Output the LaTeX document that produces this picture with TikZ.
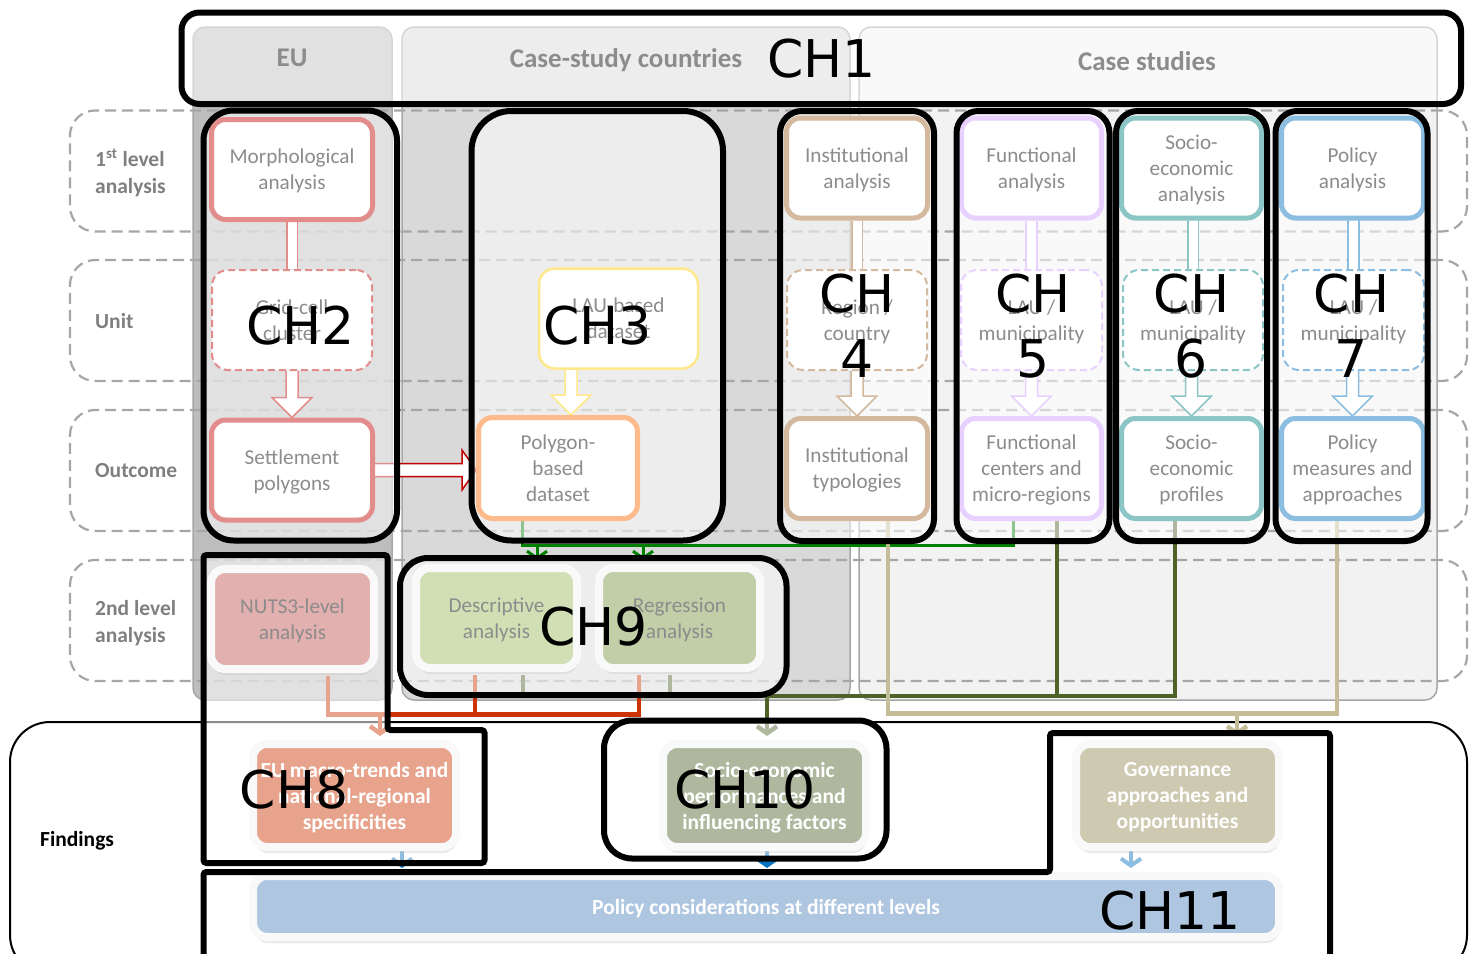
\documentclass[tikz,border=0pt]{standalone}
\usepackage{fontspec}
\setmainfont{Carlito}
\newfontfamily\chfont{DejaVu Sans}
\usetikzlibrary{arrows.meta,calc,shadows}

\definecolor{morphred}{HTML}{C00000}
\definecolor{insttan}{HTML}{A0642C}
\definecolor{funclilac}{HTML}{CC99FF}
\definecolor{socioteal}{HTML}{008080}
\definecolor{policyblue}{HTML}{0070C0}
\definecolor{lauyellow}{HTML}{FFCC00}
\definecolor{polyorange}{HTML}{FF6600}
\definecolor{nutsred}{HTML}{C0504D}
\definecolor{descgreen}{HTML}{9BBB59}
\definecolor{reggreen}{HTML}{77933C}
\definecolor{trendred}{HTML}{CC3300}
\definecolor{perfolive}{HTML}{4F6228}
\definecolor{govtan}{HTML}{948A54}
\definecolor{linetan}{HTML}{C4BD97}
\definecolor{considblue}{HTML}{4F81BD}
\definecolor{flowgreen}{HTML}{008000}
\definecolor{eugray}{HTML}{BDBDBD}
\definecolor{cscgray}{HTML}{D9D9D9}
\definecolor{csgray}{HTML}{F2F2F2}
\definecolor{rowgray}{HTML}{A6A6A6}
\definecolor{labelgray}{HTML}{7F7F7F}
\definecolor{glowgray}{HTML}{F2F2F2}

\pgfdeclarelayer{back}
\pgfdeclarelayer{mid}
\pgfsetlayers{back,mid,main}

\newcommand{\hollowdown}[3]{%
  \draw[draw=#1, fill=white, line width=1.5pt]
    ($(#2)+(-6,0)$) -- ($(#3)+(-6,-20)$) -- ($(#3)+(-20,-20)$) -- (#3)
    -- ($(#3)+(20,-20)$) -- ($(#3)+(6,-20)$) -- ($(#2)+(6,0)$);}
\newcommand{\hollowright}[3]{%
  \draw[draw=#1, fill=white, line width=1.5pt]
    ($(#2)+(0,-6.5)$) -- ($(#3)+(-14,-6.5)$) -- ($(#3)+(-14,-20)$) -- (#3)
    -- ($(#3)+(-14,20)$) -- ($(#3)+(-14,6.5)$) -- ($(#2)+(0,6.5)$);}

\tikzset{
  boxfont/.style={font=\fontsize{21.2}{26}\selectfont},
  colbox/.style={draw=rowgray, line width=1.5pt, rounded corners=12pt, minimum height=673pt, inner sep=0pt},
  colhead/.style={font=\bfseries\fontsize{27}{30}\selectfont},
  rowbox/.style={draw=rowgray, line width=2.2pt, dash pattern=on 11pt off 6pt, rounded corners=25pt,
    minimum width=1397pt, minimum height=121pt, inner sep=0pt},
  rowlabel/.style={anchor=west, align=left, inner sep=0pt, text=labelgray, font=\bfseries\fontsize{21.5}{27}\selectfont},
  anabox/.style={draw=#1, line width=5pt, fill=white, rounded corners=14pt, minimum height=100pt,
    align=center, inner sep=0pt, text depth=0pt, boxfont},
  unitbox/.style={draw=#1, line width=2pt, dash pattern=on 7pt off 4pt, fill=white, rounded corners=16pt,
    minimum height=100pt, align=center, inner sep=0pt, text depth=0pt, boxfont},
  resbox/.style={fill=#1, draw=glowgray, line width=8pt, rounded corners=14pt, minimum height=100pt,
    align=center, inner sep=0pt, text depth=0pt, boxfont,
    drop shadow={shadow xshift=1pt, shadow yshift=-6pt, opacity=0.3, fill=black!60}},
  findbox/.style={resbox=#1, minimum height=103pt, text=white, font=\bfseries\fontsize{21.5}{26}\selectfont},
  dblbar/.style={draw=#1, double=white, double distance=9pt, line width=1.6pt},
  flow/.style={draw=#1, line width=4.5pt},
  vtip/.style={-{Straight Barb[length=7pt,width=20pt]}},
  chbox/.style={draw=black, line width=6pt, fill=white, fill opacity=0.55, text opacity=1, inner sep=0pt,
    align=center, font=\chfont\fontsize{52}{65}\selectfont},
  chshape/.style={draw=black, line width=6pt, fill=white, fill opacity=0.55, rounded corners=3pt},
  chlabel/.style={font=\chfont\fontsize{52}{65}\selectfont, inner sep=0pt},
}

\begin{document}
\begin{tikzpicture}[x=1pt, y=-1pt]
  \useasboundingbox (0,0) rectangle (1474,953);

  \begin{pgfonlayer}{back}
    % columns
    \node[colbox, fill=eugray, minimum width=199pt] (eu) at (292.5,363.5) {};
    \node[colbox, fill=cscgray, minimum width=448pt] (csc) at (626,363.5) {};
    \node[colbox, fill=csgray, minimum width=578pt] (cs) at (1148,363.5) {};
    \node[colhead] (euhead) at (292,58) {EU};
    \node[colhead] (cschead) at (626,60) {Case-study countries};
    \node[colhead] (cshead) at (1147,61) {Case studies};

    % rows
    \node[rowbox] (rowfirst) at (768.5,171) {};
    \node[rowbox] (rowunit) at (768.5,320.5) {};
    \node[rowbox] (rowout) at (768.5,470.5) {};
    \node[rowbox] (rowsecond) at (768.5,620.5) {};
    \node[rowlabel] (lblfirst) at (95,173) {1\textsuperscript{st} level\\analysis};
    \node[rowlabel] (lblunit) at (95,321) {Unit};
    \node[rowlabel] (lblout) at (95,471) {Outcome};
    \node[rowlabel] (lblsecond) at (95,623) {2nd level\\analysis};

    \node[draw, line width=2pt, fill=white, rounded corners=40pt, minimum width=1457pt,
      minimum height=253pt] (findings) at (738.5,848.5) {};
    \node[rowlabel, text=black] (lblfind) at (40,841) {Findings};
  \end{pgfonlayer}

  % first level analysis
  \node[anabox=morphred, minimum width=161pt] (morph) at (292,169.5) {Morphological\\analysis};
  \node[anabox=insttan, minimum width=141pt] (inst) at (857,168) {Institutional\\analysis};
  \node[anabox=funclilac, minimum width=140pt] (func) at (1031.5,168) {Functional\\analysis};
  \node[anabox=socioteal, minimum width=140pt] (socio) at (1191.5,168) {Socio-\\economic\\analysis};
  \node[anabox=policyblue, minimum width=142pt] (policy) at (1352.5,168) {Policy\\analysis};

  % units
  \node[unitbox=morphred, minimum width=160pt] (grid) at (292,320) {Grid-cell\\cluster};
  \node[unitbox=lauyellow, solid, line width=2.5pt, minimum width=159pt] (lau) at (618.5,318.5) {LAU-based\\dataset};
  \node[unitbox=insttan, minimum width=140pt] (region) at (857,320) {Region /\\country};
  \node[unitbox=funclilac, minimum width=141pt] (funclau) at (1031.5,320) {LAU /\\municipality};
  \node[unitbox=socioteal, minimum width=140pt] (sociolau) at (1193,320) {LAU /\\municipality};
  \node[unitbox=policyblue, minimum width=141pt] (policylau) at (1353.5,320) {LAU /\\municipality};

  % outcomes
  \node[anabox=morphred, minimum width=161pt] (settle) at (292,470) {Settlement\\polygons};
  \node[anabox=polyorange, minimum width=159pt, minimum height=101pt] (poly) at (558,468) {Polygon-\\based\\dataset};
  \node[anabox=insttan, minimum width=141pt] (insttyp) at (857,468.5) {Institutional\\typologies};
  \node[anabox=funclilac, minimum width=140pt] (funccent) at (1031.5,468.5) {Functional\\centers and\\micro-regions};
  \node[anabox=socioteal, minimum width=140pt] (socioprof) at (1191.5,468.5) {Socio-\\economic\\profiles};
  \node[anabox=policyblue, minimum width=142pt] (polmeas) at (1352.5,468.5) {Policy\\measures and\\approaches};

  % second level analysis
  \node[resbox=nutsred, minimum width=163pt] (nuts) at (292.5,619) {NUTS3-level\\analysis};
  \node[resbox=descgreen, minimum width=161pt] (desc) at (496.5,618) {Descriptive\\analysis};
  \node[resbox=reggreen, minimum width=161pt] (reg) at (679.5,618) {Regression\\analysis};

  % findings
  \node[findbox=trendred, minimum width=203pt] (trends) at (354.5,795.5) {EU macro-trends and\\national-regional\\specificities};
  \node[findbox=perfolive, minimum width=203pt] (perf) at (764.5,795.5) {Socio-economic\\performances and\\influencing factors};
  \node[findbox=govtan, minimum width=203pt] (gov) at (1177.5,795.5) {Governance\\approaches and\\opportunities};
  \node[findbox=considblue, minimum width=1026pt, minimum height=61pt] (consid) at (766,906.5) {Policy considerations at different levels};

  \begin{pgfonlayer}{mid}
    \draw[dblbar=morphred] (morph.south) -- (grid.north);
    \draw[dblbar=insttan] (inst.south) -- (region.north);
    \draw[dblbar=funclilac] (func.south) -- (funclau.north);
    \draw[dblbar=socioteal] (socio.south) -- (sociolau.north |- socio.south) -- (sociolau.north);
    \draw[dblbar=policyblue] (policy.south) -- (policylau.north |- policy.south) -- (policylau.north);

    \hollowdown{morphred}{grid.south}{settle.north}
    \coordinate (laufoot) at ([xshift=-47.5pt]lau.south);
    \coordinate (polytop) at ([xshift=13pt]poly.north);
    \hollowdown{lauyellow}{laufoot}{polytop}
    \hollowdown{insttan}{region.south}{insttyp.north}
    \hollowdown{funclilac}{funclau.south}{funccent.north}
    \coordinate (sociotop) at (sociolau.south -| socioprof.north);
    \hollowdown{socioteal}{sociotop}{socioprof.north}
    \coordinate (policytop) at (policylau.south -| polmeas.north);
    \hollowdown{policyblue}{policytop}{polmeas.north}
    \coordinate (polyside) at (settle.east -| poly.west);
    \hollowright{morphred}{settle.east}{polyside}

    % polygon-based dataset to 2nd level
    \coordinate (polyfoot) at ([xshift=-36pt]poly.south);
    \coordinate (funcfoot) at ([xshift=-18.5pt]funccent.south);
    \coordinate (greenbus) at ($(polyfoot)+(0,24)$);
    \draw[flow=flowgreen, line width=3pt] (polyfoot) -- (greenbus) -| (funcfoot);
    \coordinate (descin) at ([xshift=40.5pt, yshift=4pt]desc.north);
    \coordinate (regin) at ([xshift=-36.5pt, yshift=4pt]reg.north);
    \draw[flow=flowgreen, line width=3pt, vtip] (descin |- greenbus) -- (descin);
    \draw[flow=flowgreen, line width=3pt, vtip] (regin |- greenbus) -- (regin);

    % to EU macro-trends
    \coordinate (nutsfoot) at ([xshift=35.5pt, yshift=-3pt]nuts.south);
    \coordinate (redbus) at ($(nutsfoot)+(0,38.5)$);
    \coordinate (trendin) at ([xshift=25.5pt, yshift=4pt]trends.north);
    \coordinate (descfoot) at ([xshift=-21.5pt, yshift=-3pt]desc.south);
    \coordinate (regfoot) at ([xshift=-40.5pt, yshift=-3pt]reg.south);
    \draw[flow=trendred, vtip] (nutsfoot) -- (redbus) -| (trendin);
    \draw[flow=trendred] (descfoot) -- (descfoot |- redbus);
    \draw[flow=trendred] (regfoot) |- (trendin |- redbus);

    % to socio-economic performances
    \coordinate (descfoot2) at ([xshift=26.5pt, yshift=-3pt]desc.south);
    \coordinate (regfoot2) at ([xshift=-9.5pt, yshift=-3pt]reg.south);
    \coordinate (funcfoot2) at ([xshift=25.5pt]funccent.south);
    \coordinate (sociofoot) at ([xshift=-16.5pt]socioprof.south);
    \coordinate (olivebus) at ($(descfoot2)+(0,21)$);
    \coordinate (perfin) at ([xshift=2.5pt, yshift=4pt]perf.north);
    \draw[flow=perfolive] (descfoot2) -- (olivebus) -| (sociofoot);
    \draw[flow=perfolive] (regfoot2) -- (regfoot2 |- olivebus);
    \draw[flow=perfolive] (funcfoot2) -- (funcfoot2 |- olivebus);
    \draw[flow=perfolive, vtip] (perfin |- olivebus) -- (perfin);

    % to governance
    \coordinate (instfoot) at ([xshift=31pt]insttyp.south);
    \coordinate (polfoot) at ([xshift=-15.5pt]polmeas.south);
    \coordinate (tanbus) at ($(instfoot)+(0,192.5)$);
    \coordinate (govin) at ([xshift=59.5pt, yshift=4pt]gov.north);
    \draw[flow=linetan] (instfoot) -- (tanbus) -| (polfoot);
    \draw[flow=linetan, vtip] (govin |- tanbus) -- (govin);

    % to policy considerations
    \coordinate (considtop) at ([yshift=4pt]consid.north);
    \coordinate (trendsfoot) at ([xshift=47.5pt, yshift=4pt]trends.south);
    \coordinate (perffoot) at ([xshift=2.5pt, yshift=4pt]perf.south);
    \coordinate (govfoot) at ([xshift=-46.5pt, yshift=4pt]gov.south);
    \draw[flow=policyblue, line width=4pt, vtip] (trendsfoot) -- (trendsfoot |- considtop);
    \draw[flow=policyblue, line width=4pt, vtip] (perffoot) -- (perffoot |- considtop);
    \draw[flow=policyblue, line width=4pt, vtip] (govfoot) -- (govfoot |- considtop);
  \end{pgfonlayer}

  % chapters
  \node[chbox, rounded corners=18pt, minimum width=1279.5pt, minimum height=91.5pt] (chone) at (821.25,58.25) {CH1};
  \node[chbox, rounded corners=30pt, minimum width=193.5pt, minimum height=430pt] (chtwo) at (300.25,325.5) {CH2};
  \node[chbox, rounded corners=40pt, minimum width=251.5pt, minimum height=429.5pt] (chthree) at (597.25,325.75) {CH3};
  \node[chbox, rounded corners=22pt, minimum width=154pt, minimum height=430pt] (chfour) at (857,326) {CH\\4};
  \node[chbox, rounded corners=22pt, minimum width=153pt, minimum height=430pt] (chfive) at (1033,326) {CH\\5};
  \node[chbox, rounded corners=22pt, minimum width=151pt, minimum height=430pt] (chsix) at (1191.5,326) {CH\\6};
  \node[chbox, rounded corners=22pt, minimum width=152pt, minimum height=430pt] (chseven) at (1351.5,326) {CH\\7};
  \node[chbox, rounded corners=28pt, minimum width=386.5pt, minimum height=137pt] (chnine) at (593.25,626.5) {CH9};
  \node[chbox, rounded corners=28pt, minimum width=282.5pt, minimum height=138pt] (chten) at (745.25,789.5) {CH10};
  \draw[chshape] (203.5,555) -- (387.5,555) -- (387.5,730) -- (484.5,730) -- (484.5,863) -- (203.5,863) -- cycle;
  \node[chlabel] (cheight) at (294,790) {CH8};
  \draw[chshape] (203.5,872) -- (1050,872) -- (1050,733) -- (1330,733) -- (1330,965) -- (203.5,965) -- cycle;
  \node[chlabel] (cheleven) at (1170,911) {CH11};
\end{tikzpicture}
\end{document}
